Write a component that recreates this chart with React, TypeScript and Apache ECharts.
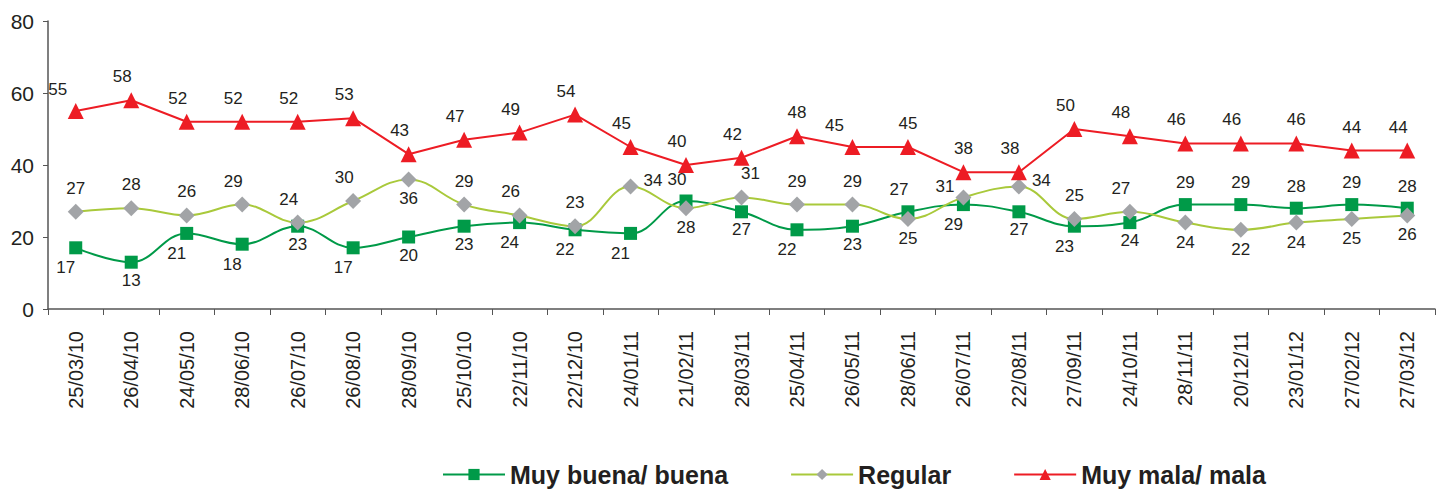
import React, { useEffect, useRef } from "react";
import * as echarts from "echarts";

const categories = [
  "25/03/10", "26/04/10", "24/05/10", "28/06/10", "26/07/10", "26/08/10", "28/09/10",
  "25/10/10", "22/11/10", "22/12/10", "24/01/11", "21/02/11", "28/03/11", "25/04/11",
  "26/05/11", "28/06/11", "26/07/11", "22/08/11", "27/09/11", "24/10/11", "28/11/11",
  "20/12/11", "23/01/12", "27/02/12", "27/03/12",
];
const muyBuena = [17, 13, 21, 18, 23, 17, 20, 23, 24, 22, 21, 30, 27, 22, 23, 27, 29, 27, 23, 24, 29, 29, 28, 29, 28];
const regular = [27, 28, 26, 29, 24, 30, 36, 29, 26, 23, 34, 28, 31, 29, 29, 25, 31, 34, 25, 27, 24, 22, 24, 25, 26];
const muyMala = [55, 58, 52, 52, 52, 53, 43, 47, 49, 54, 45, 40, 42, 48, 45, 45, 38, 38, 50, 48, 46, 46, 46, 44, 44];
const yTicks = [0, 20, 40, 60, 80];

// label placement codes per point
const buenaPlace = ["BL", "B", "BL", "BL", "B", "BL", "B", "B", "BL", "BL", "BL", "TL", "B", "BL", "B", "TL", "BL", "B", "BL", "B", "T", "T", "T", "T", "T"];
const regularPlace = ["T", "T", "T", "TL", "TL", "TL", "B", "T", "TL", "T", "R", "B", "TR", "T", "T", "B", "L", "R", "T", "TL", "B", "B", "B", "B", "B"];
const malaPlace = ["TLL", "TL", "TL", "TL", "TL", "TL", "TL", "TL", "TL", "TL", "TL", "TL", "TL", "T", "TLL", "T", "T", "TL", "TL", "TL", "TL", "TL", "T", "T", "TL"];

function placeLabel(code: string) {
  switch (code) {
    case "T": return { position: "top", offset: [0, -2] };
    case "TL": return { position: "top", offset: [-9, -2] };
    case "TLL": return { position: "top", offset: [-18, 0] };
    case "TR": return { position: "top", offset: [9, -2] };
    case "B": return { position: "bottom", offset: [0, -2] };
    case "BL": return { position: "bottom", offset: [-10, 0] };
    case "R": return { position: "right", offset: [0, -6] };
    case "L": return { position: "left", offset: [4, -11] };
    default: return { position: "top" };
  }
}

const GREEN = "#009a48";
const LIGHT = "#a9c93b";
const GREY = "#a2a4a7";
const RED = "#ed1c24";
const TEXT = "#231f20";
const FONT = "'Liberation Sans', Arial, sans-serif";

export default function App() {
  const ref = useRef<HTMLDivElement>(null);
  useEffect(() => {
    document.body.style.margin = "0";
    if (!ref.current) return;
    const chart = echarts.init(ref.current, undefined, { renderer: "svg" });
    const baseLabel = { show: true, fontSize: 17, color: TEXT, fontFamily: FONT };
    chart.setOption({
      animation: false,
      backgroundColor: "#ffffff",
      textStyle: { fontFamily: FONT },
      grid: { left: 48, right: 5, top: 21, bottom: 180, containLabel: false },
      legend: {
        left: 437,
        top: 457,
        itemWidth: 62,
        itemHeight: 14,
        itemGap: 62,
        textStyle: { fontSize: 25, fontWeight: "bold", color: TEXT, fontFamily: FONT },
        data: ["Muy buena/ buena", "Regular", "Muy mala/ mala"],
      },
      xAxis: {
        type: "category",
        data: categories,
        boundaryGap: true,
        axisLine: { lineStyle: { color: "#555", width: 1.5 } },
        axisTick: { show: true, length: 6, lineStyle: { color: "#555" } },
        axisLabel: { rotate: 90, interval: 0, fontSize: 20, color: TEXT, margin: 22, fontFamily: FONT },
        splitLine: { show: false },
      },
      yAxis: {
        type: "value",
        min: yTicks[0],
        max: yTicks[yTicks.length - 1],
        interval: 20,
        axisLine: { show: true, lineStyle: { color: "#555", width: 1.5 } },
        axisTick: { show: true, length: 5, lineStyle: { color: "#555" } },
        axisLabel: { fontSize: 21, color: TEXT, margin: 14, fontFamily: FONT },
        splitLine: { show: false },
      },
      series: [
        {
          name: "Muy buena/ buena",
          type: "line",
          smooth: 0.4,
          symbol: "rect",
          symbolSize: 13,
          itemStyle: { color: GREEN },
          lineStyle: { color: GREEN, width: 2 },
          label: baseLabel,
          z: 3,
          data: muyBuena.map((v, i) => ({ value: v, label: placeLabel(buenaPlace[i]) })),
        },
        {
          name: "Regular",
          type: "line",
          smooth: 0.4,
          symbol: "diamond",
          symbolSize: 16,
          itemStyle: { color: GREY },
          lineStyle: { color: LIGHT, width: 2 },
          label: baseLabel,
          z: 4,
          data: regular.map((v, i) => ({ value: v, label: placeLabel(regularPlace[i]) })),
        },
        {
          name: "Muy mala/ mala",
          type: "line",
          smooth: false,
          symbol: "triangle",
          symbolSize: 16,
          itemStyle: { color: RED },
          lineStyle: { color: RED, width: 2 },
          label: baseLabel,
          z: 5,
          data: muyMala.map((v, i) => ({ value: v, label: placeLabel(malaPlace[i]) })),
        },
      ],
    });
    return () => chart.dispose();
  }, []);
  return <div ref={ref} style={{ width: 1440, height: 489 }} />;
}
